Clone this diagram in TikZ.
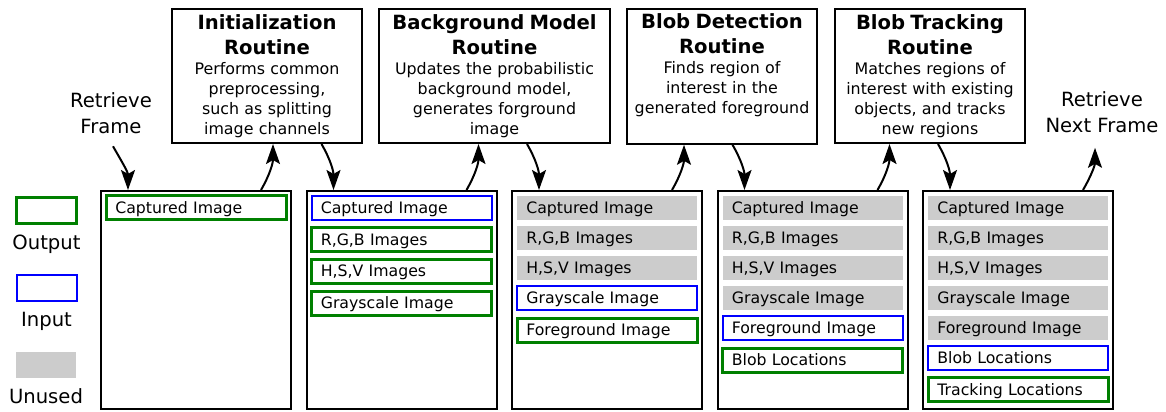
\documentclass[tikz,border=0pt]{standalone}
\usepackage{fontspec}
\setmainfont{DejaVu Sans}
\usetikzlibrary{arrows.meta,calc,positioning}
\definecolor{outgreen}{RGB}{0,128,0}
\definecolor{inblue}{RGB}{0,0,255}
\definecolor{unusedgray}{RGB}{204,204,204}
\newcommand\itemfont{\fontsize{11.8pt}{14pt}\selectfont}
\newcommand\bodyfont{\fontsize{11.9pt}{15pt}\selectfont}
\newcommand\titlefont{\fontsize{14.7pt}{18.75pt}\selectfont\bfseries}
\newcommand\sidefont{\fontsize{14.7pt}{19.5pt}\selectfont}
\tikzset{
    membox/.style={draw, line width=1.5pt, anchor=north west, inner sep=0pt,
        minimum width=142.5pt, minimum height=163.5pt},
    item/.style={inner xsep=7pt, inner ysep=0pt, text width=121pt, align=left,
        minimum height=18pt, text height=8.6pt, text depth=0pt, font=\itemfont},
    outbox/.style={draw=outgreen, line width=2.25pt},
    inbox/.style={draw=inblue, line width=1.5pt},
    unused/.style={fill=unusedgray},
    routine/.style={draw, line width=1.5pt, anchor=north, inner xsep=3pt,
        text width=#1, minimum height=100.5pt, align=center, font=\bodyfont},
    routine/.default=136.5pt,
    sidetext/.style={align=center, font=\sidefont},
    legendbox/.style={minimum width=45pt, minimum height=19.5pt, inner sep=0pt},
    flow/.style={-{Stealth[length=15pt,width=10.5pt,inset=3pt]}, line width=1.5pt}
}
\begin{document}
\begin{tikzpicture}[x=0.75pt, y=-0.75pt]
    \useasboundingbox (0,0) rectangle (1166,411);
    % memory boxes, one per stage
    \foreach \i in {1,...,5}{
        \node[membox] (m\i) at ({100+205.5*(\i-1)}, 190) {};
        \coordinate (in\i) at ($(m\i.north west)+(28,0)$);
        \coordinate (out\i) at ($(m\i.north east)+(-31,0)$);
        \coordinate (up\i) at ($(out\i)+(12,0)$);
        \coordinate (dn\i) at ($(in\i)+(-12,0)$);
    }
    \foreach \yc/\txt/\kind [count=\j] in {17.5/Captured Image/outbox}
        \node[item,\kind] (m1-\j) at ($(m1.north)+(0,\yc)$) {\txt};
    \foreach \yc/\txt/\kind [count=\j] in {17.5/Captured Image/inbox,
        49.5/{R,G,B Images}/outbox, 81/{H,S,V Images}/outbox, 113/Grayscale Image/outbox}
        \node[item,\kind] (m2-\j) at ($(m2.north)+(0,\yc)$) {\txt};
    \foreach \yc/\txt/\kind [count=\j] in {17.5/Captured Image/unused,
        47.5/{R,G,B Images}/unused, 77.5/{H,S,V Images}/unused, 108/Grayscale Image/inbox,
        140/Foreground Image/outbox}
        \node[item,\kind] (m3-\j) at ($(m3.north)+(0,\yc)$) {\txt};
    \foreach \yc/\txt/\kind [count=\j] in {17.5/Captured Image/unused,
        47.5/{R,G,B Images}/unused, 77.5/{H,S,V Images}/unused, 107.5/Grayscale Image/unused,
        138/Foreground Image/inbox, 170/Blob Locations/outbox}
        \node[item,\kind] (m4-\j) at ($(m4.north)+(0,\yc)$) {\txt};
    \foreach \yc/\txt/\kind [count=\j] in {17.5/Captured Image/unused,
        47.5/{R,G,B Images}/unused, 77.5/{H,S,V Images}/unused, 107.5/Grayscale Image/unused,
        138/Foreground Image/unused, 167.5/Blob Locations/inbox, 199.5/Tracking Locations/outbox}
        \node[item,\kind] (m5-\j) at ($(m5.north)+(0,\yc)$) {\txt};
    % routines
    \node[routine] (init) at (267,8) {{\titlefont Initialization\\Routine\par}Performs common\\preprocessing,\\such as splitting\\image channels};
    \node[routine=167.25pt] (bgm) at (494.5,8) {{\titlefont Background Model\\Routine\par}Updates the probabilistic\\background model,\\generates forground\\image};
    \node[routine] (det) at (722,8) {{\titlefont Blob Detection\\Routine\par}Finds region of\\interest in the\\generated foreground\\\strut};
    \node[routine] (trk) at (930,8) {{\titlefont Blob Tracking\\Routine\par}Matches regions of\\interest with existing\\objects, and tracks\\new regions};
    \node[sidetext] (retr) at (111,113) {Retrieve\\Frame};
    \node[sidetext] (next) at (1102,112.5) {Retrieve\\Next Frame};
    \coordinate (nextin) at ($(next.south)+(0,10)$);
    % legend
    \node[legendbox,outbox] (lgout) at (46.5,210.5) {};
    \node[sidetext, below=4pt of lgout] (lgoutlbl) {Output};
    \node[legendbox,inbox] (lgin) at (46.5,288) {};
    \node[sidetext, below=4pt of lgin] (lginlbl) {Input};
    \node[legendbox,unused] (lgun) at (46,365) {};
    \node[sidetext, below=4pt of lgun] (lgunlbl) {Unused};
    % flow
    \draw[flow] ($(retr.south)+(2,8)$) to[out=-60,in=90] (in1);
    \draw[flow] (out1) to[out=60,in=-90] (up1 |- init.south);
    \draw[flow] (dn2 |- init.south) to[out=-60,in=90] (in2);
    \draw[flow] (out2) to[out=60,in=-90] (up2 |- bgm.south);
    \draw[flow] (dn3 |- bgm.south) to[out=-60,in=90] (in3);
    \draw[flow] (out3) to[out=60,in=-90] (up3 |- det.south);
    \draw[flow] (dn4 |- det.south) to[out=-60,in=90] (in4);
    \draw[flow] (out4) to[out=60,in=-90] (up4 |- trk.south);
    \draw[flow] (dn5 |- trk.south) to[out=-60,in=90] (in5);
    \draw[flow] (out5) to[out=60,in=-90] (up5 |- nextin);
\end{tikzpicture}
\end{document}
